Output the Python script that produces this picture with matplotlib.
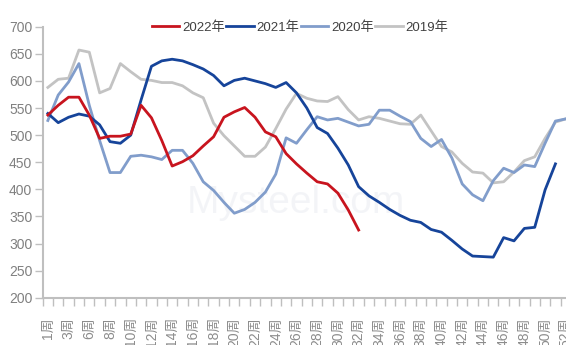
import numpy as np
import matplotlib.pyplot as plt

plt.rcParams['font.family'] = ['Liberation Sans Narrow', 'Liberation Sans', 'Noto Sans CJK SC']

# weekly categories (week 4 is not in the series)
weeks = [1, 2, 3] + list(range(5, 53))
week_labels = [f'{w}周' for w in weeks]

v2022 = [537, 555, 570, 570, 537, 494, 498, 498, 502, 555, 532, 490, 443, 451, 462,
         480, 497, 533, 543, 551, 533, 506, 497, 466, 447, 430, 414, 410, 393, 362, 325]

v2021 = [540, 523, 533, 539, 535, 519, 488, 485, 500, 565, 627, 637, 640, 637, 630,
         622, 610, 591, 601, 605, 600, 595, 588, 597, 578, 550, 514, 503, 476, 445, 405,
         388, 376, 363, 352, 343, 339, 326, 321, 306, 290, 277, 276, 275, 311, 305, 328,
         330, 399, 447]

v2020 = [527, 574, 598, 632, 555, 490, 431, 431, 461, 463, 460, 455, 472, 472, 448,
         414, 398, 376, 356, 363, 376, 395, 428, 495, 485, 510, 534, 528, 531, 524, 517,
         520, 546, 546, 535, 525, 494, 479, 492, 458, 410, 390, 379, 416, 439, 431, 445,
         442, 485, 526, 530]

v2019 = [588, 603, 605, 657, 653, 578, 586, 632, 617, 603, 601, 597, 597, 591, 578,
         569, 522, 499, 480, 461, 461, 478, 512, 548, 577, 568, 563, 562, 571, 547, 528,
         534, 531, 526, 521, 520, 537, 508, 479, 469, 448, 432, 430, 412, 414, 432, 453,
         460, 494, 524, 530]

series = [('2022年', v2022, '#C8141E'),
          ('2021年', v2021, '#16449A'),
          ('2020年', v2020, '#819DCB'),
          ('2019年', v2019, '#C3C3C3')]

fig = plt.figure(figsize=(5.66, 3.45), dpi=100)
ax = fig.add_axes([0.0754, 0.1368, 0.9334, 0.7858])

# draw oldest year first so 2022 sits on top
for name, vals, col in reversed(series):
    ax.plot(np.arange(len(vals)), vals, color=col, lw=2.0, label=name,
            solid_joinstyle='round')

ax.text(0.48, 0.35, 'Mysteel.com', transform=ax.transAxes, fontsize=28,
        color='#ECEEF3', alpha=0.6, ha='center', va='center', zorder=0)

ax.set_xlim(-0.5, len(weeks) - 0.5)
ax.set_ylim(200, 700)
ax.set_yticks(np.arange(200, 701, 50))

# tick marks on category boundaries, labels on every second week
ax.set_xticks(np.arange(-0.5, len(weeks), 1))
ax.set_xticklabels([])
ax.set_xticks(np.arange(0, len(weeks), 2), minor=True)
ax.set_xticklabels(week_labels[::2], minor=True, rotation=90, fontsize=10,
                   color='#8C8C8C', family=['Liberation Sans', 'Noto Sans CJK SC'])
ax.tick_params(axis='x', which='major', length=6, width=1, color='#BFBFBF')
ax.tick_params(axis='x', which='minor', length=0, pad=14)
ax.tick_params(axis='y', length=6, width=1, color='#BFBFBF', pad=1.5,
               labelsize=10, labelcolor='#808080')

for s in ['top', 'right']:
    ax.spines[s].set_visible(False)
for s in ['left', 'bottom']:
    ax.spines[s].set_color('#BFBFBF')
    ax.spines[s].set_linewidth(1.5)

handles, labels = ax.get_legend_handles_labels()
fig.legend(handles[::-1], labels[::-1], loc='center', ncol=4,
           bbox_to_anchor=(0.53, 0.92), frameon=False, fontsize=9.5,
           handlelength=2.1, handletextpad=0.2, columnspacing=0.1,
           labelcolor='#404040')

fig.savefig('out.png', dpi=100)
